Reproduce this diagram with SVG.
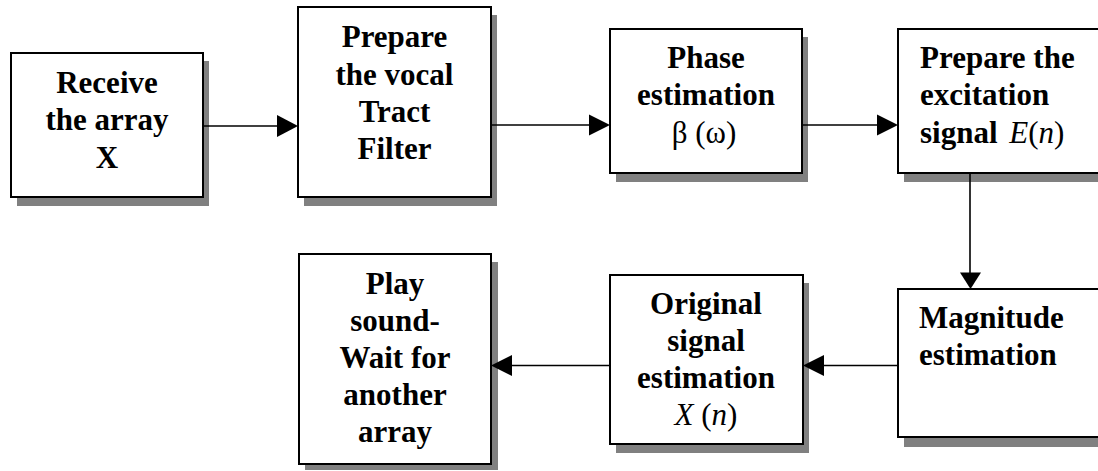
<svg xmlns="http://www.w3.org/2000/svg" width="1098" height="471" viewBox="0 0 1098 471">
<style>
.box{fill:#fff;stroke:#000;stroke-width:2}
.sh{fill:#808080}
.t{font-family:"Liberation Serif","Times New Roman",serif;font-size:31px;font-weight:bold;fill:#000}
.m{font-family:"Liberation Serif","Times New Roman",serif;font-size:31px;font-weight:normal;fill:#000}
.c{text-anchor:middle}
.ln{stroke:#000;stroke-width:1.6;fill:none}
.ah{fill:#000}
</style>
<rect width="1098" height="471" fill="#fff"/>
<g id="n1">
<rect class="sh" x="17" y="61" width="192" height="145"/>
<rect class="box" x="11" y="53" width="192" height="144"/>
<text class="t c" x="107" y="93">Receive</text>
<text class="t c" x="107" y="130">the array</text>
<text class="t c" x="107" y="168">X</text>
</g>
<g id="n2">
<rect class="sh" x="304" y="15" width="193" height="191"/>
<rect class="box" x="298" y="7" width="193" height="190"/>
<text class="t c" x="394.5" y="47">Prepare</text>
<text class="t c" x="394.5" y="84.5">the vocal</text>
<text class="t c" x="394.5" y="121.5">Tract</text>
<text class="t c" x="394.5" y="159">Filter</text>
</g>
<g id="n3">
<rect class="sh" x="616" y="37" width="192" height="145"/>
<rect class="box" x="610" y="29" width="192" height="144"/>
<text class="t c" x="706" y="68">Phase</text>
<text class="t c" x="706" y="105">estimation</text>
<text class="m c" x="704" y="143">β (ω)</text>
</g>
<g id="n4">
<rect class="sh" x="904" y="37" width="200" height="145"/>
<rect class="box" x="898" y="29" width="210" height="144"/>
<text class="t" x="920" y="68">Prepare the</text>
<text class="t" x="920" y="105">excitation</text>
<text class="t" x="920" y="143">signal <tspan class="m" font-style="italic" dx="4">E</tspan><tspan class="m">(</tspan><tspan class="m" font-style="italic">n</tspan><tspan class="m">)</tspan></text>
</g>
<g id="n5">
<rect class="sh" x="904" y="297" width="200" height="150"/>
<rect class="box" x="898" y="289" width="210" height="148"/>
<text class="t" x="919" y="328">Magnitude</text>
<text class="t" x="919" y="365">estimation</text>
</g>
<g id="n6">
<rect class="sh" x="616" y="283" width="193" height="170"/>
<rect class="box" x="610" y="275" width="193" height="169"/>
<text class="t c" x="706" y="314">Original</text>
<text class="t c" x="706" y="351">signal</text>
<text class="t c" x="706" y="388">estimation</text>
<text class="m c" x="706" y="425"><tspan font-style="italic">X</tspan> (<tspan font-style="italic">n</tspan>)</text>
</g>
<g id="n7">
<rect class="sh" x="305" y="262" width="193" height="208"/>
<rect class="box" x="299" y="254" width="192" height="210"/>
<text class="t c" x="395" y="294">Play</text>
<text class="t c" x="395" y="331">sound-</text>
<text class="t c" x="395" y="368">Wait for</text>
<text class="t c" x="395" y="405">another</text>
<text class="t c" x="395" y="442">array</text>
</g>
<g id="connectors">
<line class="ln" x1="203" y1="126" x2="280" y2="126"/>
<polygon class="ah" points="277,115 298,126 277,137"/>
<line class="ln" x1="491" y1="125" x2="592" y2="125"/>
<polygon class="ah" points="589,114.5 610,125 589,135.5"/>
<line class="ln" x1="802" y1="125" x2="880" y2="125"/>
<polygon class="ah" points="877,114.5 898,125 877,135.5"/>
<line class="ln" x1="970" y1="173" x2="970" y2="275"/>
<polygon class="ah" points="960,272.5 981,272.5 970.5,289"/>
<line class="ln" x1="898" y1="365.5" x2="821" y2="365.5"/>
<polygon class="ah" points="824,355 803,365.5 824,376"/>
<line class="ln" x1="610" y1="365.5" x2="510" y2="365.5"/>
<polygon class="ah" points="512,355 491,365.5 512,376"/>
</g>
</svg>
